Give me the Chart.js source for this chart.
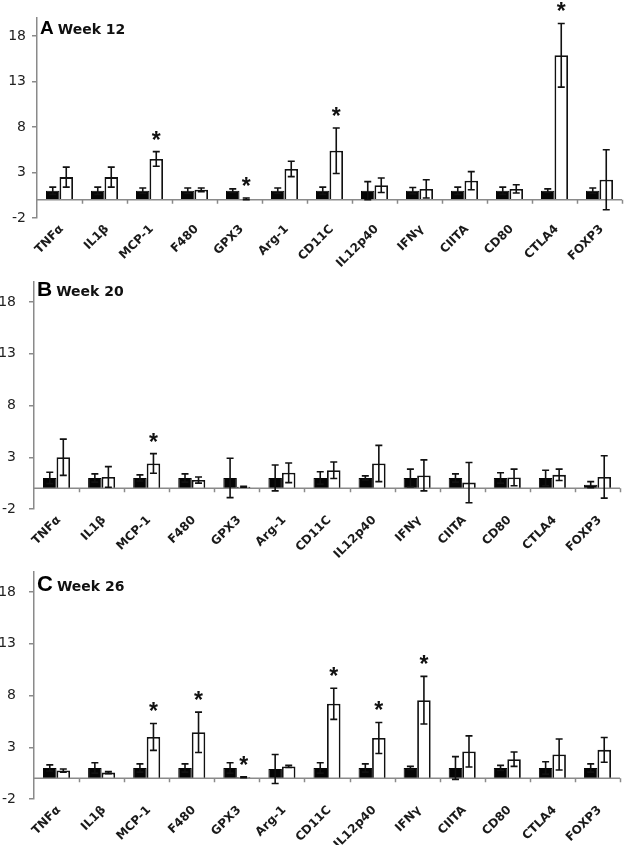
<!DOCTYPE html>
<html>
<head>
<meta charset="utf-8">
<script src="https://cdn.jsdelivr.net/npm/chart.js@4.4.1/dist/chart.umd.min.js"></script>
<style>
  html, body { margin: 0; padding: 0; background: #fff; }
  body { width: 625px; height: 845px; position: relative; overflow: hidden; }
  .panel { position: absolute; left: 0; width: 625px; }
</style>
</head>
<body>
<div class="panel" id="pA" style="top:0px;height:268px"><canvas id="chartA"></canvas></div>
<div class="panel" id="pB" style="top:260px;height:299px"><canvas id="chartB"></canvas></div>
<div class="panel" id="pC" style="top:550px;height:295px"><canvas id="chartC"></canvas></div>
<script>
const categories = ['TNFα', 'IL1β', 'MCP-1', 'F480', 'GPX3', 'Arg-1', 'CD11C', 'IL12p40', 'IFNγ', 'CIITA', 'CD80', 'CTLA4', 'FOXP3'];
const yTicks = [-2, 3, 8, 13, 18];

// week 12
const wk12Control    = [1, 1, 1, 1, 1, 1, 1, 1, 1, 1, 1, 1, 1];
const wk12ControlErr = [0.4, 0.4, 0.3, 0.3, 0.2, 0.3, 0.4, 1.0, 0.35, 0.4, 0.4, 0.2, 0.3];
const wk12Treated    = [2.5, 2.5, 4.5, 1.1, 0.1, 3.4, 5.4, 1.6, 1.2, 2.1, 1.2, 15.9, 2.2];
const wk12TreatedErr = [1.1, 1.1, 0.8, 0.2, 0.1, 0.85, 2.5, 0.8, 1.0, 1.0, 0.45, 3.5, 3.3];
const wk12Signif     = ['MCP-1', 'GPX3', 'CD11C', 'CTLA4'];

// week 20
const wk20Control    = [1, 1, 1, 1, 1, 1, 1, 1, 1, 1, 1, 1, 0.35];
const wk20ControlErr = [0.55, 0.4, 0.3, 0.4, 1.9, 1.25, 0.6, 0.2, 0.85, 0.4, 0.5, 0.75, 0.3];
const wk20Treated    = [3.0, 1.1, 2.4, 0.8, 0.15, 1.5, 1.75, 2.4, 1.25, 0.55, 1.05, 1.3, 1.1];
const wk20TreatedErr = [1.75, 1.0, 0.95, 0.3, 0.05, 0.95, 0.8, 1.75, 1.5, 1.95, 0.8, 0.55, 2.05];
const wk20Signif     = ['MCP-1'];

// week 26
const wk26Control    = [1, 1, 1, 1, 1, 0.9, 1, 1, 1, 1, 1, 1, 1];
const wk26ControlErr = [0.3, 0.5, 0.4, 0.4, 0.5, 1.4, 0.5, 0.4, 0.15, 1.1, 0.25, 0.6, 0.4];
const wk26Treated    = [0.75, 0.55, 4.0, 4.45, 0.1, 1.15, 7.2, 3.9, 7.55, 2.6, 1.85, 2.3, 2.75];
const wk26TreatedErr = [0.15, 0.1, 1.3, 1.95, 0.05, 0.1, 1.5, 1.5, 2.3, 1.5, 0.7, 1.5, 1.2];
const wk26Signif     = ['MCP-1', 'F480', 'GPX3', 'CD11C', 'IL12p40', 'IFNγ'];

const axisGrey = '#8a8a8a';
const ink = '#111';

// error bars, zero line with category ticks, asterisks, slanted labels and panel title
const extras = {
    id: 'extras',
    afterDatasetsDraw(chart, args, opts) {
        const { ctx, chartArea: ca } = chart;
        const y = chart.scales.y;
        const xs = chart.scales.x;
        const n = chart.data.labels.length;
        ctx.save();
        // zero line
        const y0 = y.getPixelForValue(0);
        ctx.strokeStyle = axisGrey;
        ctx.lineWidth = 1.5;
        ctx.beginPath();
        ctx.moveTo(ca.left, y0);
        ctx.lineTo(ca.right, y0);
        const step = (ca.right - ca.left) / n;
        for (let i = 1; i <= n; i++) {
            const x = Math.round(ca.left + i * step) + 0.5;
            ctx.moveTo(x, y0);
            ctx.lineTo(x, y0 + 4);
        }
        ctx.stroke();

        // error bars
        ctx.strokeStyle = ink;
        ctx.lineWidth = 1.6;
        chart.data.datasets.forEach((ds, di) => {
            const meta = chart.getDatasetMeta(di);
            meta.data.forEach((bar, i) => {
                const v = ds.data[i], e = ds.errors[i];
                const top = y.getPixelForValue(v + e), bot = y.getPixelForValue(v - e);
                const x = bar.x;
                ctx.beginPath();
                ctx.moveTo(x, top); ctx.lineTo(x, bot);
                ctx.moveTo(x - 3.5, top); ctx.lineTo(x + 3.5, top);
                ctx.moveTo(x - 3.5, bot); ctx.lineTo(x + 3.5, bot);
                ctx.stroke();
            });
        });

        // asterisks above treated bars
        const tr = chart.data.datasets[1];
        const trMeta = chart.getDatasetMeta(1);
        ctx.fillStyle = ink;
        ctx.font = 'bold 23px "Liberation Sans", Arial, sans-serif';
        ctx.textAlign = 'center';
        ctx.textBaseline = 'alphabetic';
        opts.signif.forEach(name => {
            const i = chart.data.labels.indexOf(name);
            const top = y.getPixelForValue(tr.data[i] + tr.errors[i]);
            ctx.fillText('*', trMeta.data[i].x, top - 18 + 14);
        });

        // slanted category labels under the plot
        ctx.fillStyle = '#1a1a1a';
        ctx.font = 'bold 12px "DejaVu Sans", sans-serif';
        ctx.textAlign = 'right';
        ctx.textBaseline = 'top';
        chart.data.labels.forEach((lab, i) => {
            ctx.save();
            ctx.translate(xs.getPixelForValue(i) - 2, ca.bottom + 5);
            ctx.rotate(-Math.PI / 4);
            ctx.fillText(lab, 0, 0);
            ctx.restore();
        });

        // panel title
        ctx.textAlign = 'left';
        ctx.textBaseline = 'alphabetic';
        ctx.font = 'bold ' + opts.letterSize + 'px "Liberation Sans", Arial, sans-serif';
        ctx.fillStyle = '#000';
        ctx.fillText(opts.letter, ca.left + 3, ca.top + opts.titleDy);
        const lw = ctx.measureText(opts.letter).width;
        ctx.font = 'bold 14px "DejaVu Sans", sans-serif';
        ctx.fillStyle = '#111';
        ctx.fillText(opts.title, ca.left + 5 + lw + 2, ca.top + opts.titleDy);
        ctx.restore();
    }
};

function makePanel(id, cfg) {
    const ctx = document.getElementById(id).getContext('2d');
    return new Chart(ctx, {
        type: 'bar',
        data: {
            labels: categories,
            datasets: [
                {
                    label: 'Control', data: cfg.control, errors: cfg.controlErr,
                    backgroundColor: '#050505', borderColor: '#050505', borderWidth: 1,
                    categoryPercentage: 0.6, barPercentage: 1
                },
                {
                    label: 'Treated', data: cfg.treated, errors: cfg.treatedErr,
                    backgroundColor: '#ffffff', borderColor: ink, borderWidth: 1.8,
                    categoryPercentage: 0.6, barPercentage: 1
                }
            ]
        },
        plugins: [extras],
        options: {
            responsive: true,
            maintainAspectRatio: false,
            animation: false,
            layout: { padding: { top: 18, right: cfg.right, left: 0, bottom: 0 } },
            scales: {
                x: {
                    grid: { display: false, drawTicks: false },
                    border: { display: false },
                    ticks: { display: false },
                    afterFit: s => { s.height = cfg.xHeight; }
                },
                y: {
                    min: -2, max: 20,
                    grid: { drawOnChartArea: false, color: axisGrey, lineWidth: 1.5, tickLength: 5 },
                    border: { color: axisGrey, width: 1.5 },
                    ticks: {
                        color: '#222', padding: cfg.tickPad,
                        font: { family: '"DejaVu Sans", sans-serif', size: 14 }
                    },
                    afterBuildTicks: s => { s.ticks = yTicks.map(v => ({ value: v })); },
                    afterFit: s => { s.width = cfg.left; }
                }
            },
            plugins: {
                legend: { display: false },
                tooltip: { enabled: false },
                extras: {
                    signif: cfg.signif, letter: cfg.letter, title: cfg.title,
                    letterSize: cfg.letterSize, titleDy: cfg.titleDy
                }
            }
        }
    });
}

makePanel('chartA', {
    control: wk12Control, controlErr: wk12ControlErr, treated: wk12Treated, treatedErr: wk12TreatedErr,
    signif: wk12Signif, letter: 'A', title: 'Week 12', letterSize: 19, titleDy: 16,
    left: 37, right: 3, xHeight: 50, tickPad: 6
});
makePanel('chartB', {
    control: wk20Control, controlErr: wk20ControlErr, treated: wk20Treated, treatedErr: wk20TreatedErr,
    signif: wk20Signif, letter: 'B', title: 'Week 20', letterSize: 21, titleDy: 15,
    left: 34, right: 5, xHeight: 50, tickPad: 13
});
makePanel('chartC', {
    control: wk26Control, controlErr: wk26ControlErr, treated: wk26Treated, treatedErr: wk26TreatedErr,
    signif: wk26Signif, letter: 'C', title: 'Week 26', letterSize: 22, titleDy: 20,
    left: 34, right: 5, xHeight: 46, tickPad: 13
});
</script>
</body>
</html>
